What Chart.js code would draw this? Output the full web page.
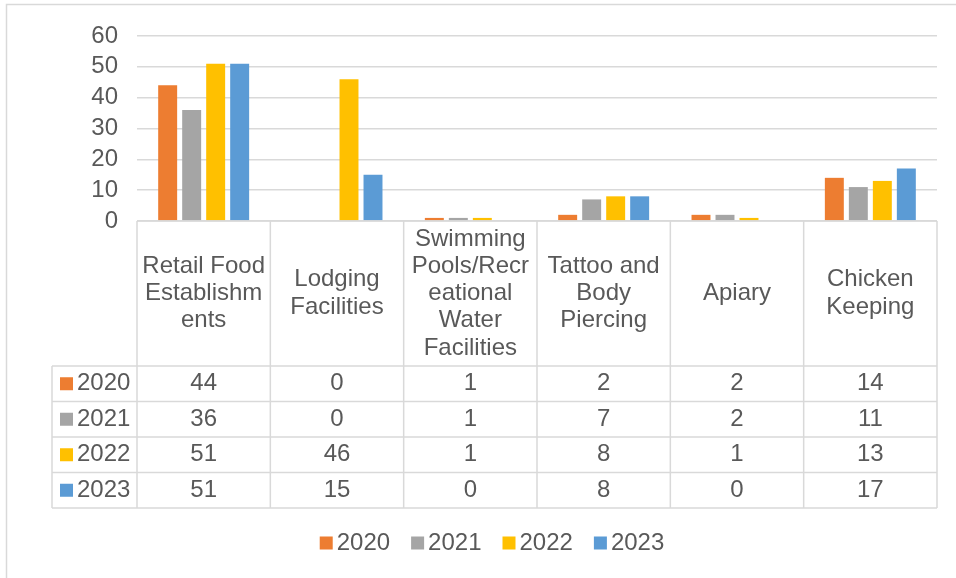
<!DOCTYPE html>
<html>
<head>
<meta charset="utf-8">
<script src="https://cdn.jsdelivr.net/npm/chart.js@4"></script>
<style>
  html, body { margin: 0; padding: 0; background: #fff; }
  #wrap { width: 956px; height: 578px; }
</style>
</head>
<body>
<div id="wrap"><canvas id="chart" width="956" height="578"></canvas></div>
<script>
// categories, wrapped the way the original table cells wrap
const CATEGORIES = [
  ["Retail Food", "Establishm", "ents"],
  ["Lodging", "Facilities"],
  ["Swimming", "Pools/Recr", "eational", "Water", "Facilities"],
  ["Tattoo and", "Body", "Piercing"],
  ["Apiary"],
  ["Chicken", "Keeping"]
];

const YEARS = ["2020", "2021", "2022", "2023"];

const VALUES_2020 = [44, 0, 1, 2, 2, 14];
const VALUES_2021 = [36, 0, 1, 7, 2, 11];
const VALUES_2022 = [51, 46, 1, 8, 1, 13];
const VALUES_2023 = [51, 15, 0, 8, 0, 17];

const Y_MIN = 0, Y_MAX = 60, Y_STEP = 10;

const COLORS = ["#ED7D31", "#A5A5A5", "#FFC000", "#5B9BD5"];
const TEXT = "#595959";
const LINE = "#d9d9d9";
const FONT = "Liberation Sans, Arial, sans-serif";
const FS = 24;

const SERIES = [VALUES_2020, VALUES_2021, VALUES_2022, VALUES_2023];


/* =====================================================
   DATA TABLE, LEGEND + FRAME
===================================================== */
const tablePlugin = {
  id: "dataTable",

  beforeDraw(chart) {
    const ctx = chart.ctx;
    ctx.save();
    ctx.strokeStyle = LINE;
    ctx.lineWidth = 1.5;
    ctx.strokeRect(6.5, 4.5, 1200, 1200);
    ctx.restore();
  },

  afterDraw(chart) {
    const ctx = chart.ctx;
    const area = chart.chartArea;
    const xs = chart.scales.x;
    const n = CATEGORIES.length;
    const colW = (area.right - area.left) / n;

    const headTop = area.bottom;
    const headH = 145;
    const rowH = 35.5;
    const tableLeft = 52;
    const rowsTop = headTop + headH;
    const tableBottom = rowsTop + rowH * SERIES.length;

    ctx.save();
    ctx.strokeStyle = LINE;
    ctx.lineWidth = 1.5;

    // horizontal rules
    ctx.beginPath();
    ctx.moveTo(area.left, headTop);
    ctx.lineTo(area.right, headTop);
    for (let r = 0; r <= SERIES.length; r++) {
      const y = rowsTop + r * rowH;
      ctx.moveTo(tableLeft, y);
      ctx.lineTo(area.right, y);
    }
    // vertical rules
    for (let i = 0; i <= n; i++) {
      const x = area.left + i * colW;
      ctx.moveTo(x, headTop);
      ctx.lineTo(x, tableBottom);
    }
    ctx.moveTo(tableLeft, rowsTop);
    ctx.lineTo(tableLeft, tableBottom);
    ctx.stroke();

    ctx.fillStyle = TEXT;
    ctx.font = `${FS}px ${FONT}`;
    ctx.textAlign = "center";
    ctx.textBaseline = "middle";

    // category headers
    const lh = 27.3;
    CATEGORIES.forEach((lines, i) => {
      const cx = xs.getPixelForValue(i);
      const cy = headTop + headH / 2;
      const y0 = cy - (lines.length - 1) * lh / 2;
      lines.forEach((t, k) => ctx.fillText(t, cx, y0 + k * lh));
    });

    // values
    SERIES.forEach((vals, r) => {
      const cy = rowsTop + r * rowH + rowH / 2;
      vals.forEach((v, i) => {
        ctx.fillText(String(v), xs.getPixelForValue(i), cy);
      });

      // row key
      ctx.fillStyle = COLORS[r];
      ctx.fillRect(60, cy - 6.5, 13, 13);
      ctx.fillStyle = TEXT;
      ctx.textAlign = "left";
      ctx.fillText(YEARS[r], 77, cy);
      ctx.textAlign = "center";
    });

    // legend
    const box = 13, gapText = 4, gapItem = 21;
    const widths = YEARS.map(y => box + gapText + ctx.measureText(y).width);
    const total = widths.reduce((a, b) => a + b, 0) + gapItem * (YEARS.length - 1);
    let lx = 492 - total / 2;
    const ly = 543;
    ctx.textAlign = "left";
    YEARS.forEach((y, i) => {
      ctx.fillStyle = COLORS[i];
      ctx.fillRect(lx, ly - 6.5, box, box);
      ctx.fillStyle = TEXT;
      ctx.fillText(y, lx + box + gapText, ly);
      lx += widths[i] + gapItem;
    });

    ctx.restore();
  }
};


/* =====================================================
   CHART
===================================================== */
new Chart(document.getElementById("chart"), {
  type: "bar",
  data: {
    labels: CATEGORIES,
    datasets: YEARS.map((y, i) => ({
      label: y,
      data: SERIES[i],
      backgroundColor: COLORS[i],
      borderWidth: 0,
      categoryPercentage: 0.72,
      barPercentage: 0.79
    }))
  },
  options: {
    responsive: false,
    animation: false,
    layout: { padding: { top: 36, right: 19, bottom: 70, left: 0 } },
    plugins: {
      legend: { display: false },
      tooltip: { enabled: false }
    },
    scales: {
      x: {
        ticks: { display: false },
        grid: { display: false },
        border: { display: false },
        afterFit: s => { s.height = 287; }
      },
      y: {
        min: Y_MIN,
        max: Y_MAX,
        ticks: {
          stepSize: Y_STEP,
          autoSkip: false,
          color: TEXT,
          font: { family: FONT, size: FS },
          padding: 19
        },
        grid: { color: LINE, lineWidth: 1.5, drawTicks: false },
        border: { display: false },
        afterFit: s => { s.width = 137; }
      }
    }
  },
  plugins: [tablePlugin]
});
</script>
</body>
</html>
